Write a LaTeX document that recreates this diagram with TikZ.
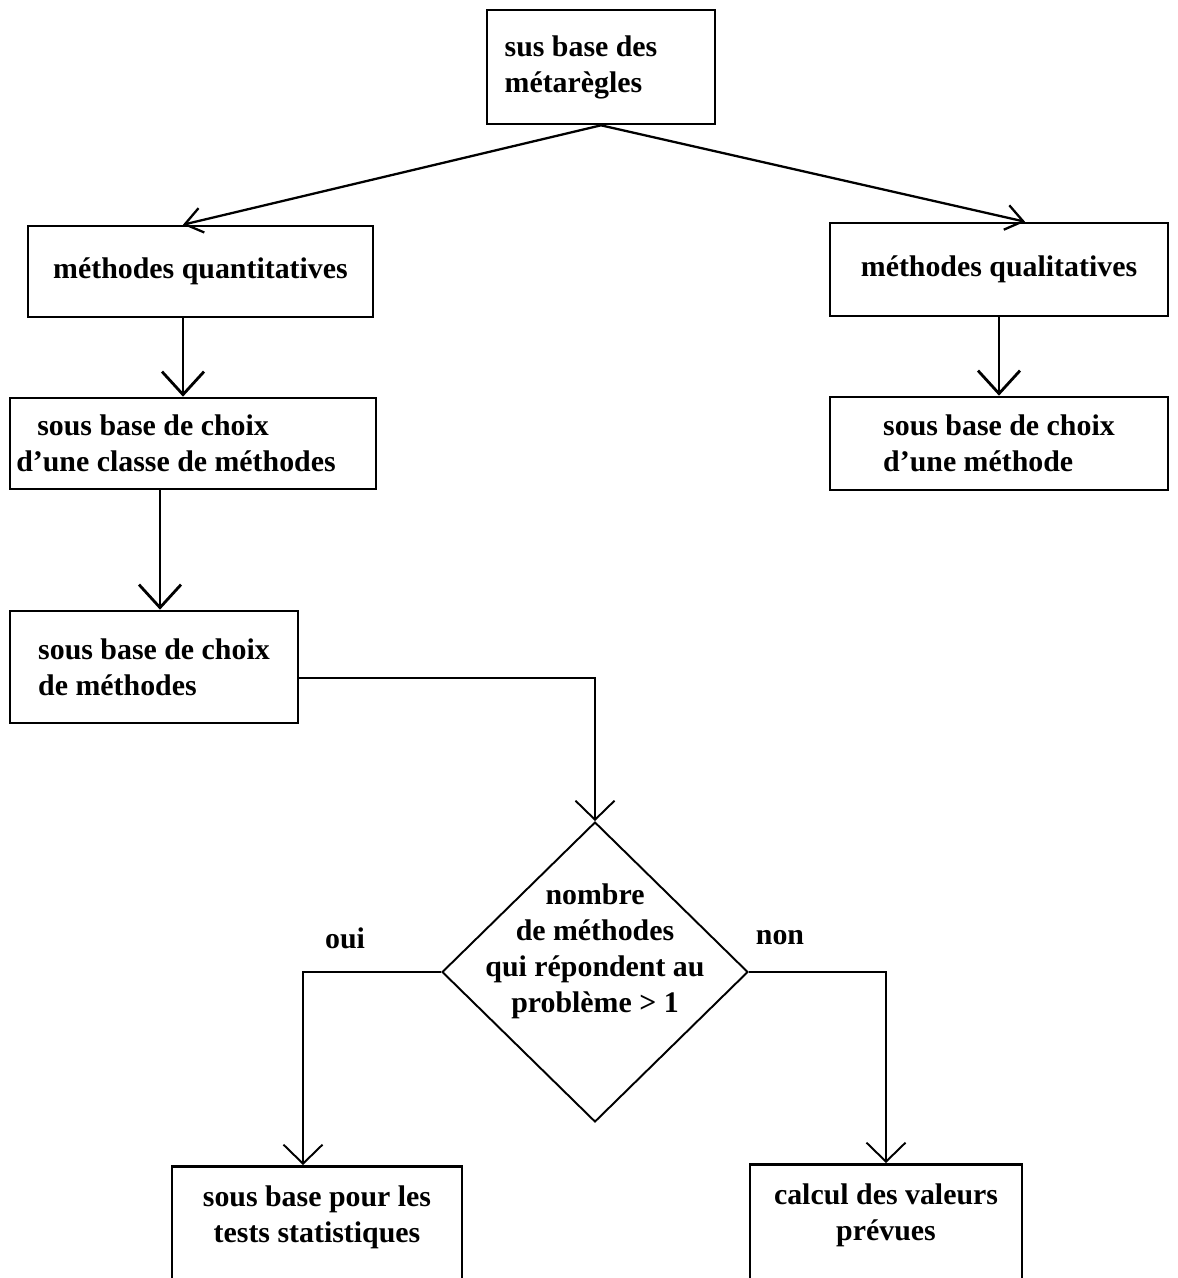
\documentclass[tikz,border=0pt]{standalone}
\usepackage{fontspec}
\setmainfont{Liberation Serif}
\usepackage{tikz}
\usetikzlibrary{arrows.meta,positioning,shapes.geometric}

\begin{document}
\begin{tikzpicture}[x=0.02cm,y=-0.02cm,
  texte/.style={font=\fontsize{17}{20.5}\selectfont\bfseries},
  boite/.style={draw,line width=1.5pt,texte,inner sep=0pt},
  fleche/.style={-{Straight Barb[length=0.46cm,width=0.84cm]},line width=1.6pt},
  flechefine/.style={-{Straight Barb[length=0.38cm,width=0.78cm]},line width=1.1pt},
  flechediag/.style={-{Straight Barb[length=0.34cm,width=0.5cm]},line width=1.3pt}]
  \useasboundingbox (0,0) rectangle (1177,1278);
  \clip (0,0) rectangle (1177,1278);
  \node[boite,minimum width=4.56cm,minimum height=2.28cm,align=left] (sus) at (601,67) {sus base des\hspace*{0.8cm}\\métarègles};
  \node[boite,minimum width=6.9cm,minimum height=1.82cm] (quanti) at (200.5,271.5) {méthodes quantitatives};
  \node[boite,minimum width=6.76cm,minimum height=1.86cm] (quali) at (999,269.5) {méthodes qualitatives};
  \node[boite,minimum width=7.32cm,minimum height=1.82cm,align=left] (classe) at (193,443.5) {\hspace*{0.42cm}sous base de choix\\d’une classe de méthodes\hspace*{0.68cm}};
  \node[boite,minimum width=6.76cm,minimum height=1.86cm,align=left] (uneme) at (999,443.5) {sous base de choix\\d’une méthode};
  \node[boite,minimum width=5.76cm,minimum height=2.24cm,align=left] (dechoix) at (154,667) {sous base de choix\\de méthodes};
  \node[draw,diamond,line width=1.1pt,minimum width=6.12cm,minimum height=6cm,inner sep=0pt,
    label={[texte,align=center,yshift=0.42cm]center:nombre\\de méthodes\\qui répondent au\\problème > 1}] (test) at (595,972) {};
  \node[boite,anchor=north,minimum width=5.8cm,minimum height=3.2cm,
    label={[texte,align=center,yshift=0.58cm]center:sous base pour les\\tests statistiques}] (stats) at (317,1165) {};
  \node[boite,anchor=north,minimum width=5.44cm,minimum height=3.2cm,
    label={[texte,align=center,yshift=0.58cm]center:calcul des valeurs\\prévues}] (calcul) at (886,1163) {};
  \node[texte] (oui) at (345,938) {oui};
  \node[texte] (non) at (780,938) {non};
  \draw[flechediag] (sus.south) -- ([xshift=-0.35cm]quanti.north);
  \draw[flechediag] (sus.south) -- ([xshift=0.52cm]quali.north);
  \draw[fleche] ([xshift=-0.35cm]quanti.south) -- ([xshift=-0.35cm]quanti.south |- classe.north);
  \draw[fleche] (quali.south) -- (quali.south |- uneme.north);
  \draw[fleche] ([xshift=-0.66cm]classe.south) -- ([xshift=-0.66cm]classe.south |- dechoix.north);
  \draw[flechefine] ([yshift=-0.22cm]dechoix.east) -| (test.north);
  \draw[flechefine] (test.west) -| ([xshift=-0.28cm]stats.north);
  \draw[flechefine] (test.east) -| (calcul.north);
\end{tikzpicture}
\end{document}
